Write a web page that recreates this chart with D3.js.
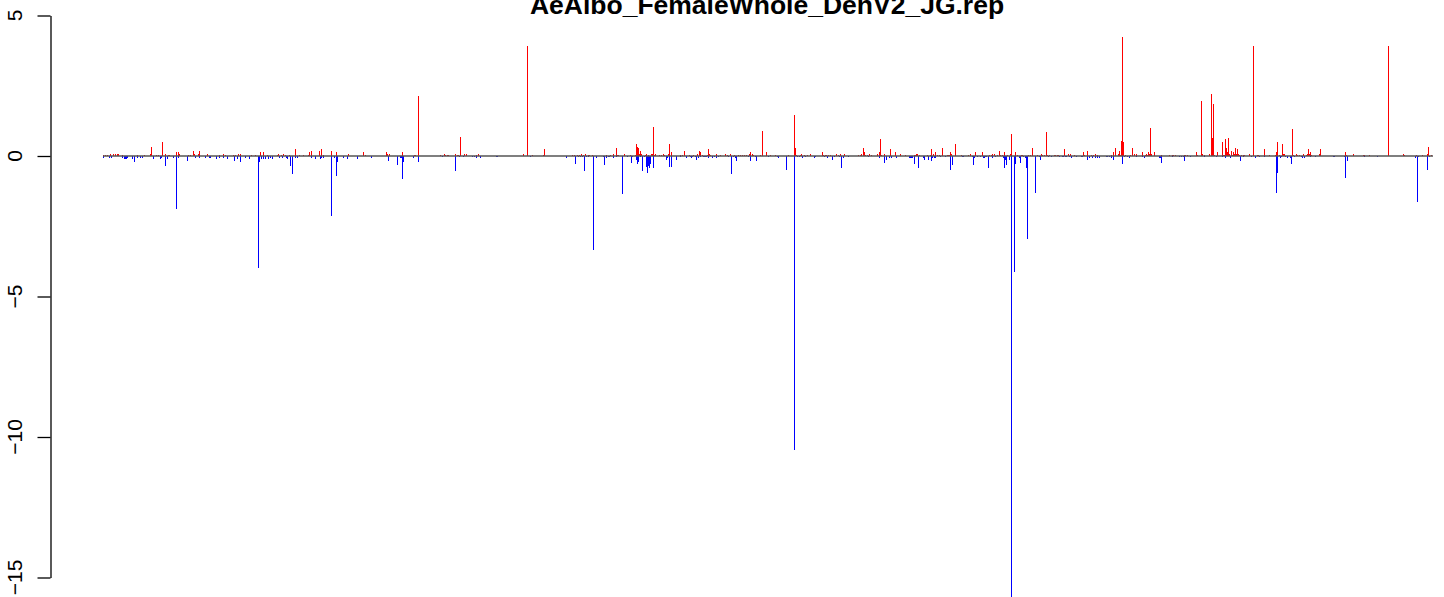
<!DOCTYPE html>
<meta charset="utf-8">
<style>
body { margin: 0; background: #fff; }
text { font-family: "Liberation Sans", Arial, Helvetica, sans-serif; fill: #000; }
.title { font-weight: bold; font-size: 26.5px; text-anchor: middle; }
.tick-label { font-size: 21px; text-anchor: middle; }
</style>
<body>
<svg width="1444" height="597"></svg>
<script src="https://d3js.org/d3.v7.min.js"></script>
<script>

var title = "AeAlbo_FemaleWhole_DenV2_JG.rep";
var yTicks = [5, 0, -5, -10, -15];

// [bin, value], positive (red) track
var upBars = [
  [3,0.05],[5,0.05],[7,0.05],[10,0.08],[13,0.08],[15,0.08],[17,0.08],[18,0.08],[22,0.05],[37,0.05],
  [44,0.05],[50,0.08],[51,0.32],[56,0.05],[58,0.05],[62,0.50],[65,0.08],[68,0.05],[69,0.05],[76,0.14],
  [78,0.14],[79,0.08],[88,0.05],[90,0.05],[93,0.18],[94,0.08],[98,0.08],[99,0.18],[107,0.08],[119,0.05],
  [123,0.08],[125,0.05],[133,0.05],[135,0.05],[138,0.08],[140,0.08],[151,0.05],[155,0.05],[160,0.14],[163,0.14],
  [167,0.05],[177,0.05],[178,0.08],[181,0.05],[183,0.08],[185,0.05],[189,0.05],[195,0.25],[199,0.05],[203,0.05],
  [208,0.05],[209,0.14],[211,0.18],[219,0.18],[221,0.25],[223,0.05],[231,0.18],[236,0.14],[248,0.08],[263,0.14],
  [265,0.05],[286,0.14],[287,0.08],[289,0.08],[302,0.14],[314,0.05],[315,0.05],[318,2.14],
  [340,0.05],[344,0.08],[345,0.05],[347,0.05],[348,0.05],[355,0.08],[357,0.05],[358,0.05],[360,0.69],[364,0.08],
  [366,0.08],[376,0.05],[378,0.08],[423,0.08],[427,3.93],[432,0.05],[443,0.05],[444,0.26],[472,0.05],[474,0.05],
  [477,0.05],[479,0.05],[481,0.08],[483,0.05],[485,0.08],[488,0.05],[489,0.05],[492,0.05],[506,0.05],[510,0.05],
  [513,0.08],[516,0.30],[517,0.05],[518,0.05],[524,0.08],[530,0.05],[535,0.05],[536,0.44],[537,0.33],[538,0.30],
  [539,0.08],[540,0.19],[541,0.08],[545,0.05],[546,0.08],[548,0.05],[551,0.08],[552,0.08],[553,1.04],[554,0.05],
  [555,0.08],[559,0.05],[561,0.05],[563,0.08],[564,0.05],[568,0.08],[569,0.44],[571,0.15],[580,0.05],[582,0.05],
  [584,0.19],[589,0.05],[593,0.05],[597,0.08],[599,0.19],[600,0.15],[602,0.05],[607,0.05],[608,0.26],[609,0.08],
  [610,0.05],[616,0.08],[620,0.05],[625,0.08],[627,0.05],[630,0.08],[634,0.05],[638,0.05],[640,0.05],[642,0.05],
  [644,0.05],[646,0.05],[649,0.08],[650,0.15],[652,0.08],[653,0.05],[660,0.05],[662,0.90],[666,0.15],
  [670,0.05],[675,0.05],[688,0.05],[694,1.47],[695,0.30],[696,0.05],[700,0.05],[701,0.08],[704,0.05],[707,0.05],
  [710,0.08],[722,0.15],[723,0.05],[725,0.05],[726,0.05],[728,0.05],[730,0.05],[736,0.08],[738,0.05],[740,0.08],
  [744,0.08],[758,0.05],[760,0.05],[761,0.08],[763,0.30],[764,0.15],[765,0.05],[767,0.05],[769,0.08],[771,0.05],
  [777,0.08],[779,0.15],[780,0.62],[781,0.05],[784,0.08],[790,0.26],[795,0.15],[800,0.08],[805,0.05],[814,0.05],
  [815,0.05],[816,0.08],[817,0.08],[819,0.05],[827,0.05],[830,0.05],[831,0.26],[833,0.08],[835,0.15],[837,0.05],
  [839,0.05],[842,0.30],[847,0.05],[848,0.05],[849,0.05],[850,0.15],[851,0.08],[855,0.44],[861,0.05],[868,0.05],
  [870,0.08],[875,0.15],[882,0.15],[889,0.05],[891,0.05],[892,0.08],[894,0.08],[897,0.05],[899,0.19],[900,0.05],
  [902,0.05],[904,0.15],[907,0.05],[910,0.08],[911,0.79],[915,0.15],[917,0.05],[921,0.05],[922,0.05],[928,0.05],
  [930,0.05],[932,0.30],[937,0.05],[941,0.08],[942,0.05],[944,0.05],[946,0.87],[947,0.05],[949,0.05],[954,0.05],
  [955,0.05],[957,0.05],[958,0.05],[964,0.26],[968,0.08],[970,0.08],[974,0.05],[983,0.15],[984,0.05],[987,0.19],
  [991,0.05],[993,0.05],[995,0.08],[997,0.05],[1011,0.05],[1013,0.15],[1015,0.30],[1018,0.08],[1019,0.19],[1020,0.05],
  [1021,0.55],[1022,4.24],[1023,0.51],[1025,0.05],[1030,0.05],[1032,0.30],[1034,0.08],[1036,0.08],[1042,0.15],[1045,0.05],
  [1046,0.08],[1047,0.05],[1048,0.15],[1049,0.08],[1050,1.01],[1051,0.08],[1054,0.15],[1061,0.05],[1069,0.05],[1072,0.05],
  [1073,0.05],[1075,0.05],[1084,0.05],[1085,0.05],[1087,0.05],[1096,0.15],[1097,0.05],[1101,1.97],[1102,0.08],[1104,0.05],
  [1109,0.08],[1111,2.21],[1112,0.65],[1113,1.86],[1114,0.05],[1117,0.15],[1122,0.51],[1123,0.05],[1124,0.05],[1125,0.62],
  [1126,0.30],[1127,0.15],[1128,0.65],[1129,0.08],[1131,0.19],[1132,0.05],[1133,0.15],[1134,0.08],[1135,0.30],[1136,0.08],
  [1137,0.26],[1138,0.08],[1139,0.05],[1141,0.05],[1143,0.05],[1144,0.05],[1149,0.08],[1153,3.93],[1157,0.05],[1158,0.05],
  [1164,0.26],[1169,0.05],[1175,0.05],[1176,0.15],[1177,0.51],[1179,0.05],[1182,0.44],[1183,0.08],[1184,0.08],[1192,0.97],
  [1193,0.05],[1196,0.08],[1197,0.05],[1199,0.05],[1203,0.08],[1206,0.05],[1207,0.08],[1208,0.26],[1209,0.08],[1210,0.15],
  [1211,0.05],[1219,0.08],[1220,0.26],[1245,0.15],[1246,0.05],[1253,0.08],[1263,0.05],[1264,0.05],[1269,0.05],[1288,3.93],
  [1303,0.08],[1304,0.05],[1316,0.05],[1322,0.05],[1327,0.08],[1328,0.33],[1331,0.05]
];

// [bin, value], negative (blue) track
var downBars = [
  [3,-0.06],[9,-0.06],[11,-0.06],[22,-0.06],[24,-0.09],[25,-0.09],[26,-0.09],[27,-0.06],[32,-0.09],[34,-0.2],
  [37,-0.06],[40,-0.06],[42,-0.06],[53,-0.09],[60,-0.09],[61,-0.06],[65,-0.34],[67,-0.09],[73,-0.06],[76,-1.88],
  [78,-0.06],[87,-0.17],[95,-0.06],[99,-0.06],[105,-0.06],[109,-0.06],[110,-0.06],[116,-0.09],[119,-0.06],[123,-0.06],
  [127,-0.09],[134,-0.17],[137,-0.09],[140,-0.2],[145,-0.06],[149,-0.09],[158,-4.0],[159,-0.2],[161,-0.09],[163,-0.09],
  [165,-0.09],[168,-0.09],[170,-0.06],[172,-0.09],[179,-0.06],[182,-0.06],[186,-0.06],[187,-0.09],[190,-0.34],[192,-0.64],
  [195,-0.06],[197,-0.06],[211,-0.06],[215,-0.09],[220,-0.09],[221,-0.06],[223,-0.06],[231,-2.12],[234,-0.06],[236,-0.7],
  [237,-0.2],[243,-0.06],[247,-0.09],[257,-0.09],[271,-0.06],[288,-0.17],[297,-0.32],[300,-0.06],[301,-0.06],[302,-0.82],
  [303,-0.2],[313,-0.06],[318,-0.2],
  [342,-0.05],[355,-0.55],[359,-0.05],[363,-0.05],[372,-0.05],[374,-0.05],[376,-0.08],[380,-0.08],[396,-0.05],[397,-0.05],
  [430,-0.05],[466,-0.08],[475,-0.30],[478,-0.05],[480,-0.05],[482,-0.05],[484,-0.55],[486,-0.05],[488,-0.05],[493,-3.33],
  [496,-0.08],[503,-0.05],[504,-0.33],[506,-0.08],[508,-0.05],[509,-0.05],[513,-0.08],[516,-0.05],[522,-1.36],[527,-0.05],
  [531,-0.26],[532,-0.05],[536,-0.15],[537,-0.30],[538,-0.23],[540,-0.05],[542,-0.55],[544,-0.05],[546,-0.40],[547,-0.62],
  [548,-0.37],[549,-0.44],[550,-0.30],[553,-0.44],[566,-0.15],[567,-0.08],[569,-0.40],[571,-0.40],[576,-0.15],[580,-0.05],
  [586,-0.08],[590,-0.05],[591,-0.08],[592,-0.05],[595,-0.05],[596,-0.15],[598,-0.08],[600,-0.05],[603,-0.05],[604,-0.05],
  [605,-0.05],[606,-0.05],[608,-0.08],[612,-0.08],[614,-0.05],[616,-0.08],[618,-0.05],[628,-0.05],[631,-0.65],[633,-0.05],
  [635,-0.08],[636,-0.19],[648,-0.05],[650,-0.19],[655,-0.05],[656,-0.19],[668,-0.05],
  [677,-0.05],[678,-0.08],[686,-0.51],[694,-10.45],[697,-0.05],[699,-0.05],[702,-0.08],[705,-0.05],[714,-0.08],[715,-0.05],
  [724,-0.05],[727,-0.08],[732,-0.15],[734,-0.05],[739,-0.05],[741,-0.44],[743,-0.08],[748,-0.05],[768,-0.05],[779,-0.08],
  [784,-0.26],[786,-0.15],[789,-0.08],[791,-0.08],[796,-0.08],[809,-0.08],[810,-0.08],[811,-0.08],[812,-0.08],[814,-0.30],
  [818,-0.44],[823,-0.08],[824,-0.15],[828,-0.15],[831,-0.19],[832,-0.08],[834,-0.08],[835,-0.08],[840,-0.05],[845,-0.05],
  [850,-0.51],[852,-0.33],[862,-0.05],[863,-0.05],[872,-0.05],[873,-0.33],[874,-0.08],[877,-0.05],[880,-0.05],[883,-0.08],
  [884,-0.08],[885,-0.05],[886,-0.05],[888,-0.44],[892,-0.08],[895,-0.05],[903,-0.08],[904,-0.44],[905,-0.15],[906,-0.33],
  [909,-0.15],[911,-15.7],[914,-4.14],[915,-0.30],[919,-0.08],[920,-0.26],[923,-0.05],[925,-0.08],[926,-0.44],[927,-2.97],
  [935,-1.30],[939,-0.05],[940,-0.15],[948,-0.05],[951,-0.05],[959,-0.05],[962,-0.05],[963,-0.05],[965,-0.05],[966,-0.05],
  [969,-0.05],[971,-0.08],[976,-0.05],[981,-0.05],[982,-0.05],[987,-0.15],[989,-0.08],[992,-0.08],[995,-0.08],[997,-0.08],
  [999,-0.08],[1006,-0.05],[1007,-0.05],[1009,-0.05],[1011,-0.08],[1013,-0.15],[1022,-0.30],[1024,-0.05],[1027,-0.05],[1029,-0.08],
  [1036,-0.05],[1042,-0.05],[1044,-0.08],[1059,-0.08],[1060,-0.08],[1061,-0.26],[1072,-0.05],[1079,-0.05],[1081,-0.05],[1083,-0.05],
  [1084,-0.19],[1090,-0.05],[1104,-0.05],[1116,-0.05],[1122,-0.05],[1125,-0.08],[1130,-0.08],[1140,-0.19],[1143,-0.05],[1151,-0.05],
  [1155,-0.08],[1159,-0.05],[1164,-0.05],[1176,-1.30],[1177,-0.62],[1180,-0.08],[1181,-0.05],[1185,-0.05],[1187,-0.08],[1190,-0.08],
  [1191,-0.30],[1194,-0.05],[1201,-0.05],[1202,-0.08],[1204,-0.08],[1210,-0.05],[1215,-0.05],[1233,-0.05],[1234,-0.05],[1244,-0.05],
  [1245,-0.80],[1247,-0.19],[1264,-0.05],[1277,-0.05],[1315,-0.08],[1317,-1.65],[1318,-0.05],[1327,-0.51],[1329,-0.05]
];

var svg = d3.select("svg"),
    width = +svg.attr("width"),
    height = +svg.attr("height");

var x = d3.scaleLinear().domain([0, 1340]).range([100, 1440]),
    y = d3.scaleLinear().domain([-15, 5]).range([577.5, 15.5]);

function px(d) { return Math.round(x(d[0])) + 0.5; }

var bars = svg.append("g").attr("shape-rendering", "crispEdges");

bars.selectAll(".up")
    .data(upBars)
  .enter().append("line")
    .attr("class", "up")
    .attr("x1", px).attr("x2", px)
    .attr("y1", y(0))
    .attr("y2", d => y(d[1]))
    .attr("stroke", "#ff0000")
    .attr("stroke-width", 1);

bars.selectAll(".down")
    .data(downBars)
  .enter().append("line")
    .attr("class", "down")
    .attr("x1", px).attr("x2", px)
    .attr("y1", y(0))
    .attr("y2", d => y(d[1]))
    .attr("stroke", "#0000ff")
    .attr("stroke-width", 1);

// baseline across the data range
var allBins = upBars.concat(downBars).map(d => d[0]);
svg.append("line")
    .attr("x1", x(d3.min(allBins)))
    .attr("x2", x(d3.max(allBins)) + 2)
    .attr("y1", y(0)).attr("y2", y(0))
    .attr("stroke", "#555")
    .attr("stroke-width", 1.3);

// y axis, R style: labels parallel to the axis
var axis = d3.axisLeft(y)
    .tickValues(yTicks)
    .tickSize(13)
    .tickSizeOuter(0)
    .tickFormat("");

var gAxis = svg.append("g")
    .attr("transform", "translate(50.5,0)")
    .call(axis);
gAxis.select(".domain").attr("stroke", "#000").attr("stroke-width", 1.3);
gAxis.selectAll(".tick line").attr("stroke", "#000").attr("stroke-width", 1.3);

svg.selectAll(".tick-label")
    .data(yTicks)
  .enter().append("text")
    .attr("class", "tick-label")
    .attr("transform", d => "translate(22," + y(d) + ") rotate(-90)")
    .text(d => d3.format("d")(d));

// title sits partly above the top edge, as in the original
svg.append("text")
    .attr("class", "title")
    .attr("x", 767)
    .attr("y", 14)
    .text(title);

</script>
